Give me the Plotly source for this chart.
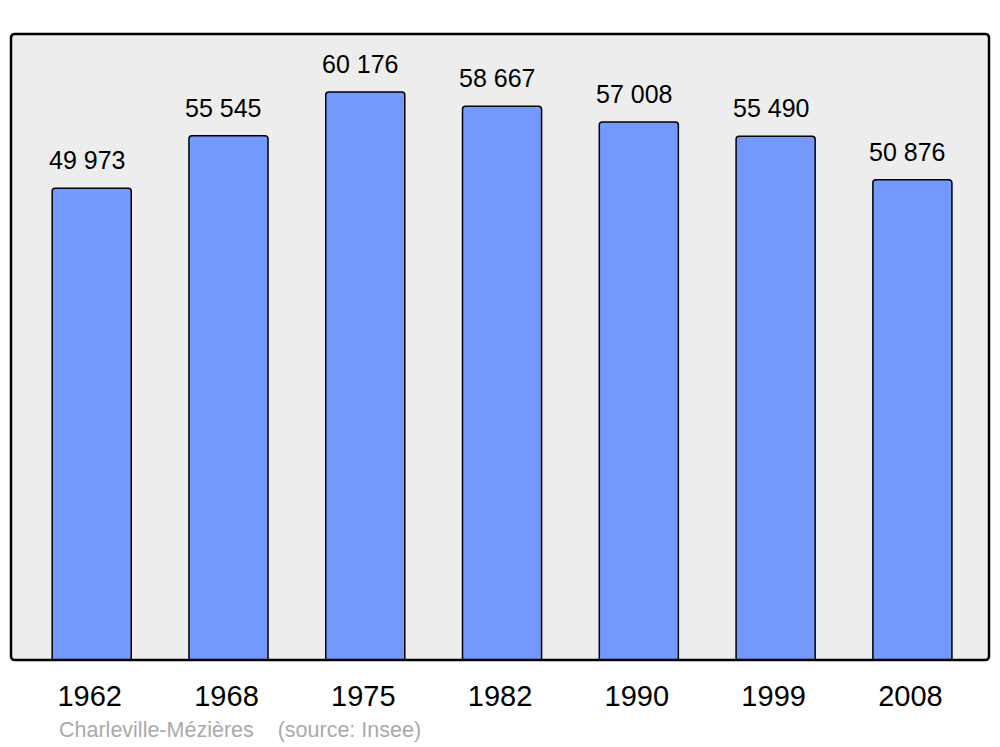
import plotly.graph_objects as go

years = ["1962", "1968", "1975", "1982", "1990", "1999", "2008"]
population = [49973, 55545, 60176, 58667, 57008, 55490, 50876]
source_text = "Charleville-Mézières    (source: Insee)"

W, H = 1000, 747
L, R, T, B = 11, 11, 34, 87

positions = list(range(len(years)))
labels = [f"{v:,}".replace(",", " ") for v in population]

fig = go.Figure()
fig.add_trace(go.Bar(
    x=positions, y=population, width=0.578,
    marker=dict(color="#7399FF", line=dict(color="#000000", width=1.5)),
    hoverinfo="skip",
))

for xi, v, t in zip(positions, population, labels):
    fig.add_annotation(x=xi, y=v, text=t, showarrow=False, yanchor="bottom",
                       yshift=12, xshift=-5,
                       font=dict(family="Liberation Sans", size=25, color="#000000"))

pw, ph = W - L - R, H - T - B
fig.add_annotation(xref="paper", yref="paper", x=(61 - 11 - 4) / pw,
                   y=-(730 - 660) / ph,
                   xanchor="left", yanchor="middle", text=source_text, showarrow=False,
                   font=dict(family="Liberation Sans", size=21.5, color="#AAAAAA"))

# rounded frame around the plot area
rx, ry = 4 / pw, 4 / ph
frame = (f"M {rx},0 L {1-rx},0 Q 1,0 1,{ry} L 1,{1-ry} Q 1,1 {1-rx},1 "
         f"L {rx},1 Q 0,1 0,{1-ry} L 0,{ry} Q 0,0 {rx},0 Z")
fig.add_shape(type="path", xref="paper", yref="paper", path=frame,
              line=dict(color="#000000", width=2.5), layer="above")

fig.update_layout(
    width=W, height=H,
    margin=dict(l=L, r=R, t=T, b=B),
    paper_bgcolor="#FFFFFF", plot_bgcolor="#EDEDED",
    showlegend=False, barcornerradius=3,
    xaxis=dict(range=[-0.59, 6.56], tickvals=positions, ticktext=years,
               showgrid=False, zeroline=False, ticks="outside", ticklen=10,
               tickcolor="rgba(0,0,0,0)", ticklabelshift=-2,
               tickfont=dict(family="Liberation Sans", size=29, color="#000000")),
    yaxis=dict(range=[0, 66320], showticklabels=False, showgrid=False, zeroline=False),
)

fig.write_html("out.html", config={"displayModeBar": False},
               post_script="document.body.style.margin='0';document.body.style.overflow='hidden';")
